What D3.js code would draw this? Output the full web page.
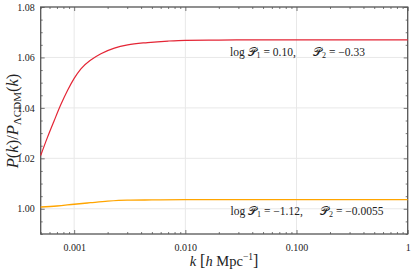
<!DOCTYPE html>
<html><head><meta charset="utf-8">
<script src="https://cdn.jsdelivr.net/npm/d3@7"></script>
<style>body{margin:0;background:#fff}svg{display:block}svg text{font-family:"Liberation Serif","DejaVu Serif",serif !important;fill:#222}</style>
</head><body><svg id="c" width="411" height="272"></svg>
<script>
const kRed = [5e-4,5.75e-4,6.62e-4,7.59e-4,8.73e-4,1e-3,1.15e-3,1.41e-3,1.74e-3,2.3e-3,3.03e-3,4.58e-3,7e-3,0.01,0.02,0.05,0.2,1];
const vRed = [1.0211,1.0283,1.0350,1.0413,1.0470,1.0517,1.0555,1.0590,1.0615,1.0637,1.0650,1.0659,1.0665,1.0668,1.0669,1.0670,1.0670,1.0670];
const kOrange = [5e-4,7e-4,1e-3,1.4e-3,2e-3,3e-3,5e-3,0.01,0.05,0.2,1];
const vOrange = [1.0007,1.0011,1.0018,1.0024,1.0030,1.0034,1.0035,1.0036,1.0036,1.0036,1.0036];
const xTicks = [0.001,0.01,0.1,1];
const xTickLabels = ["0.001","0.010","0.100","1"];
const yTicks = [1.00,1.02,1.04,1.06,1.08];
const yTickLabels = ["1.00","1.02","1.04","1.06","1.08"];
const labelRed = ["0.10","\u22120.33"];
const labelOrange = ["\u22121.12","\u22120.0055"];

const svg = d3.select("#c");
const L=40.7,R=407.7,T=7,B=234;
const x = d3.scaleLog().domain([5e-4,1]).range([L,R]);
const y = d3.scaleLinear().domain([0.99,1.08]).range([B,T]);

// grid
const g = svg.append("g");
g.selectAll(".gx").data(xTicks.slice(0,3)).join("line").attr("x1",d=>x(d)).attr("x2",d=>x(d)).attr("y1",T).attr("y2",B).attr("stroke","#e8e8e8").attr("stroke-width",1);
g.selectAll(".gy").data(yTicks.slice(0,4)).join("line").attr("y1",d=>y(d)).attr("y2",d=>y(d)).attr("x1",L).attr("x2",R).attr("stroke","#e8e8e8").attr("stroke-width",1);

// minor ticks
const xMinor=[];
[1e-4,1e-3,1e-2,1e-1].forEach(dec=>{for(let i=2;i<=9;i++){const v=dec*i; if(v>=5e-4&&v<1 && !xTicks.includes(v)) xMinor.push(v);}});
const yMinor=d3.range(0,19).map(i=>+(0.99+i*0.005).toFixed(3)).filter(v=>!yTicks.some(t=>Math.abs(t-v)<1e-9));

function axis(gen, tr){ const a=svg.append("g").attr("transform",tr).call(gen); a.attr("font-family",null); a.select(".domain").remove(); a.selectAll("line").attr("stroke","#555").attr("stroke-width",0.8); return a;}
const fmtX=(d)=>xTickLabels[xTicks.indexOf(d)];
const fmtY=(d)=>yTickLabels[yTicks.findIndex(t=>Math.abs(t-d)<1e-9)];
axis(d3.axisBottom(x).tickValues(xTicks).tickSize(-4).tickPadding(10).tickFormat(fmtX),`translate(0,${B})`);
axis(d3.axisBottom(x).tickValues(xMinor).tickSize(-2).tickFormat(""),`translate(0,${B})`);
axis(d3.axisTop(x).tickValues(xTicks).tickSize(-4).tickFormat(""),`translate(0,${T})`);
axis(d3.axisTop(x).tickValues(xMinor).tickSize(-2).tickFormat(""),`translate(0,${T})`);
axis(d3.axisLeft(y).tickValues(yTicks).tickSize(-4).tickPadding(6).tickFormat(fmtY),`translate(${L},0)`);
axis(d3.axisLeft(y).tickValues(yMinor).tickSize(-2).tickFormat(""),`translate(${L},0)`);
axis(d3.axisRight(y).tickValues(yTicks).tickSize(-4).tickFormat(""),`translate(${R},0)`);
axis(d3.axisRight(y).tickValues(yMinor).tickSize(-2).tickFormat(""),`translate(${R},0)`);
svg.selectAll(".tick text").attr("font-size",10).attr("fill","#333");

// frame
svg.append("rect").attr("x",L).attr("y",T).attr("width",R-L).attr("height",B-T).attr("fill","none").attr("stroke","#555").attr("stroke-width",1.3);

const line=d3.line().x(d=>x(d[0])).y(d=>y(d[1])).curve(d3.curveMonotoneX);
svg.append("path").attr("d",line(d3.zip(kOrange,vOrange))).attr("fill","none").attr("stroke","#ffa500").attr("stroke-width",1.3);
svg.append("path").attr("d",line(d3.zip(kRed,vRed))).attr("fill","none").attr("stroke","#e42535").attr("stroke-width",1.2);

// annotations
function ann(xp,yp,vals){
  const t=svg.append("text").attr("x",xp).attr("y",yp).attr("font-size",11.5);
  t.append("tspan").text("log ");
  t.append("tspan").text("\u{1D4AB}");
  t.append("tspan").text("1").attr("font-size",8).attr("dy",2);
  t.append("tspan").text(" = "+vals[0]+",").attr("dy",-2);
  t.append("tspan").text("\u2003\u2002");
  t.append("tspan").text("\u{1D4AB}");
  t.append("tspan").text("2").attr("font-size",8).attr("dy",2);
  t.append("tspan").text(" = "+vals[1]).attr("dy",-2);
}
ann(230,55.5,labelRed);
ann(230.5,215,labelOrange);

// x title
const xt=svg.append("text").attr("x",224).attr("y",266).attr("text-anchor","middle").attr("font-size",14.5);
xt.append("tspan").text("k").attr("font-style","italic");
xt.append("tspan").text(" [").attr("font-size",16);
xt.append("tspan").text("h").attr("font-style","italic");
xt.append("tspan").text(" Mpc");
xt.append("tspan").text("\u22121").attr("font-size",9.5).attr("dy",-6);
xt.append("tspan").text("]").attr("font-size",16).attr("dy",6);

// y title
const yt=svg.append("text").attr("transform","translate(18,121) rotate(-90)").attr("text-anchor","middle").attr("font-size",16.5);
yt.append("tspan").text("P").attr("font-style","italic");
yt.append("tspan").text("(");
yt.append("tspan").text("k").attr("font-style","italic");
yt.append("tspan").text(")/");
yt.append("tspan").text("P").attr("font-style","italic");
yt.append("tspan").text("\u039BCDM").attr("font-size",11).attr("dy",3);
yt.append("tspan").text("(").attr("dy",-3);
yt.append("tspan").text("k").attr("font-style","italic");
yt.append("tspan").text(")");
</script></body></html>
